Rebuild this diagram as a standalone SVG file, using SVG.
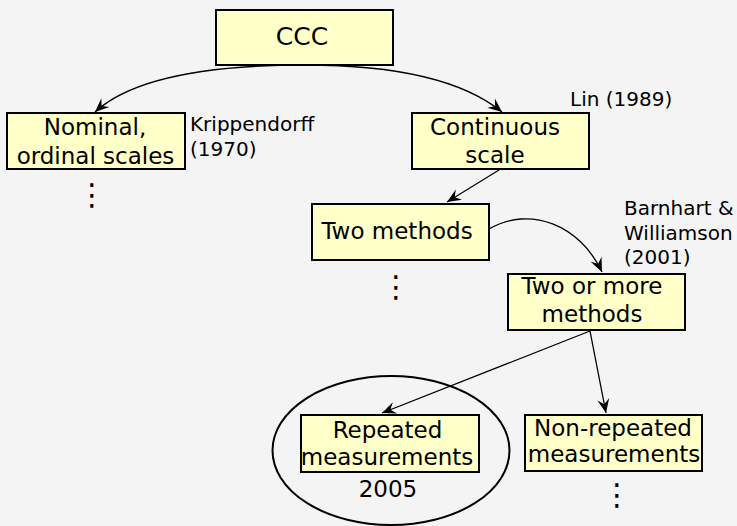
<svg xmlns="http://www.w3.org/2000/svg" width="737" height="526" viewBox="0 0 737 526">
<style>
.box{fill:#ffffc8;stroke:#000;stroke-width:2}
.t{font-family:"DejaVu Sans",sans-serif;font-size:23px;fill:#000;text-anchor:middle}
.big{font-size:25px}
.a{font-family:"DejaVu Sans",sans-serif;font-size:20px;fill:#000}
.c{fill:none;stroke:#000;stroke-width:1.3}
.d{font-family:"DejaVu Sans",sans-serif;font-size:30px;fill:#000;text-anchor:middle}
</style>
<defs>
<marker id="arr" markerUnits="userSpaceOnUse" markerWidth="18" markerHeight="14" viewBox="-16 -7 18 14" refX="0" refY="0" orient="auto">
<path d="M0,0 L-14,-6 L-9,0 L-14,6 Z" fill="#000"/>
</marker>
</defs>
<rect width="737" height="526" fill="#f4f4f4"/>
<g id="connectors">
<path class="c" d="M305,65 C200,65 130,80 95,112" marker-end="url(#arr)"/>
<path class="c" d="M305,65 C400,65 465,82 502,112" marker-end="url(#arr)"/>
<path class="c" d="M499,170 L447,202" marker-end="url(#arr)"/>
<path class="c" d="M489,229 C530,205 580,225 602,272" marker-end="url(#arr)"/>
<path class="c" d="M590,331 L382,413" marker-end="url(#arr)"/>
<path class="c" d="M590,331 L606,413" marker-end="url(#arr)"/>
</g>
<g id="ccc"><rect class="box" x="216" y="10" width="177" height="55"/><text class="t big" x="302" y="45">CCC</text></g>
<g id="nominal"><rect class="box" x="7" y="113" width="178" height="56"/><text class="t" x="95" y="135">Nominal,</text><text class="t" x="95.5" y="164">ordinal scales</text></g>
<g id="continuous"><rect class="box" x="412" y="113" width="177" height="56"/><text class="t" x="495" y="135">Continuous</text><text class="t" x="495" y="163">scale</text></g>
<g id="twomethods"><rect class="box" x="312" y="204" width="177" height="56"/><text class="t" x="397" y="239">Two methods</text></g>
<g id="twoormore"><rect class="box" x="508" y="274" width="177" height="56"/><text class="t" x="592" y="294">Two or more</text><text class="t" x="592" y="322">methods</text></g>
<g id="repeated"><ellipse cx="391" cy="450.5" rx="118.5" ry="74.5" fill="none" stroke="#000" stroke-width="2"/><rect class="box" x="301" y="415" width="178" height="57"/><text class="t" x="387.5" y="438">Repeated</text><text class="t" x="387" y="465">measurements</text><text class="t" x="388" y="497">2005</text></g>
<g id="nonrepeated"><rect class="box" x="525" y="415" width="177" height="56"/><text class="t" x="613" y="436">Non-repeated</text><text class="t" x="614" y="462">measurements</text></g>
<g id="annotations">
<text class="a" x="190" y="131">Krippendorff</text><text class="a" x="190" y="156">(1970)</text>
<text class="a" x="570" y="106">Lin (1989)</text>
<text class="a" x="624" y="215">Barnhart &amp;</text><text class="a" x="624" y="240">Williamson</text><text class="a" x="624" y="264">(2001)</text>
</g>
<g id="dots">
<text class="d" x="92" y="205">⋮</text>
<text class="d" x="396" y="296.5">⋮</text>
<text class="d" x="617" y="504.5">⋮</text>
</g>
</svg>
